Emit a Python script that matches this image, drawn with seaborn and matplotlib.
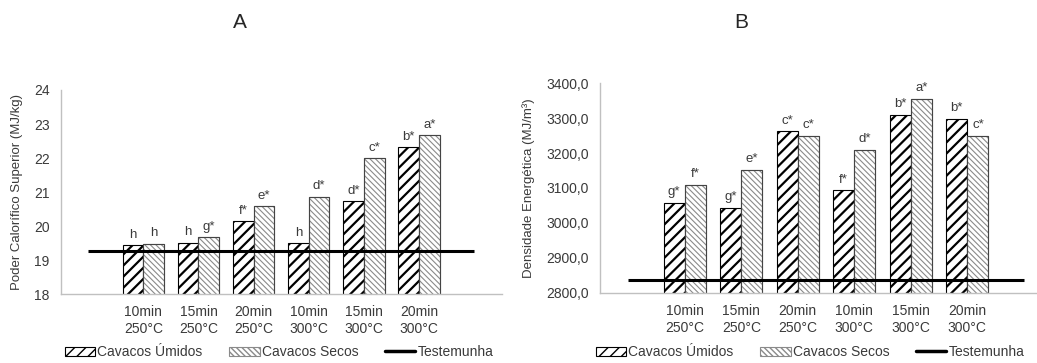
import matplotlib
matplotlib.use("Agg")
import matplotlib.pyplot as plt
from matplotlib.patches import Patch, Rectangle
from matplotlib.lines import Line2D
import seaborn as sns
import pandas as pd

# Treatments (time / temperature)
tratamentos = ["10min\n250°C", "15min\n250°C", "20min\n250°C",
               "10min\n300°C", "15min\n300°C", "20min\n300°C"]

# Panel A: higher heating value (MJ/kg)
pcs_umidos = [19.45, 19.52, 20.16, 19.50, 20.74, 22.33]
pcs_secos = [19.49, 19.67, 20.60, 20.87, 21.99, 22.68]
pcs_testemunha = 19.27
pcs_letras_umidos = ["h", "h", "f*", "h", "d*", "b*"]
pcs_letras_secos = ["h", "g*", "e*", "d*", "c*", "a*"]

# Panel B: energy density (MJ/m³)
de_umidos = [3056, 3042, 3262, 3093, 3309, 3298]
de_secos = [3109, 3152, 3248, 3209, 3354, 3250]
de_testemunha = 2837
de_letras_umidos = ["g*", "g*", "c*", "f*", "b*", "b*"]
de_letras_secos = ["f*", "e*", "c*", "d*", "a*", "c*"]

grupos = ["Cavacos Úmidos", "Cavacos Secos"]

sns.set_theme(style="white")
plt.rcParams["font.family"] = ["Liberation Sans", "DejaVu Sans"]

TXT = "#3a3a3a"
SPINE = "#c0c0c0"
HATCH_U = "///"
HATCH_S = "\\\\\\\\\\\\"


def hatch_lw(p, lw):
    if hasattr(p, "set_hatch_linewidth"):
        p.set_hatch_linewidth(lw)
    else:
        p._hatch_linewidth = lw


def estilo_umido(p):
    p.set_facecolor("white")
    p.set_edgecolor("black")
    p.set_hatch(HATCH_U)
    p.set_linewidth(0.8)
    hatch_lw(p, 1.6)


def estilo_seco(p):
    p.set_facecolor("white")
    p.set_edgecolor("#8a8a8a")
    p.set_hatch(HATCH_S)
    p.set_linewidth(0.8)
    hatch_lw(p, 0.8)


fig = plt.figure(figsize=(10.37, 3.63), dpi=100)
axA = fig.add_axes([0.0585, 0.1893, 0.4253, 0.5628])
axB = fig.add_axes([0.5786, 0.1937, 0.4359, 0.5769])


def painel(ax, umidos, secos, testemunha, letras_u, letras_s, ylim, yticks,
           fmt, ylabel, offset):
    df = pd.DataFrame({
        "trat": tratamentos * 2,
        "grupo": [grupos[0]] * len(tratamentos) + [grupos[1]] * len(tratamentos),
        "valor": list(umidos) + list(secos),
    })
    sns.barplot(data=df, x="trat", y="valor", hue="grupo", order=tratamentos,
                hue_order=grupos, width=0.75, dodge=True, legend=False,
                errorbar=None, ax=ax, zorder=2)
    bars = list(ax.patches)
    n = len(tratamentos)
    for p in bars[:n]:
        estilo_umido(p)
    for p in bars[n:2 * n]:
        estilo_seco(p)
        # dark outline on top of the gray hatching
        ax.add_patch(Rectangle(p.get_xy(), p.get_width(), p.get_height(),
                               fill=False, edgecolor="#444444", linewidth=0.8,
                               zorder=2.5))
    labels = list(letras_u) + list(letras_s)
    for p, lab in zip(bars[:2 * n], labels):
        ax.text(p.get_x() + p.get_width() / 2, p.get_y() + p.get_height() + offset,
                lab, ha="center", va="bottom", fontsize=9.5, color=TXT)
    ax.hlines(testemunha, -1.0, 6.0, color="black", linewidth=2.2, zorder=3)
    ax.set_xlim(-1.5, 6.5)
    ax.set_ylim(*ylim)
    ax.set_yticks(yticks)
    ax.set_yticklabels([fmt(v) for v in yticks], fontsize=10, color=TXT)
    ax.set_xticks(range(n))
    ax.set_xticklabels(tratamentos, fontsize=10, color=TXT, linespacing=1.25)
    ax.tick_params(axis="both", length=0, pad=8)
    ax.set_xlabel("")
    ax.set_ylabel(ylabel, fontsize=9.5, color=TXT, labelpad=8)
    for s in ["top", "right"]:
        ax.spines[s].set_visible(False)
    for s in ["left", "bottom"]:
        ax.spines[s].set_color(SPINE)
        ax.spines[s].set_linewidth(1.0)
    pu = Patch(label=grupos[0])
    estilo_umido(pu)
    ps = Patch(label=grupos[1])
    estilo_seco(ps)
    return [pu, ps, Line2D([0], [0], color="black", linewidth=2.5, label="Testemunha")]


hA = painel(axA, pcs_umidos, pcs_secos, pcs_testemunha, pcs_letras_umidos,
            pcs_letras_secos, (18, 24), list(range(18, 25)), lambda v: f"{v:d}",
            "Poder Calorífico Superior (MJ/kg)", 0.12)
hB = painel(axB, de_umidos, de_secos, de_testemunha, de_letras_umidos,
            de_letras_secos, (2800, 3400), list(range(2800, 3401, 100)),
            lambda v: f"{v:.1f}".replace(".", ","),
            "Densidade Energética (MJ/m³)", 14)

fig.text(240 / 1037, 1 - 23 / 363, "A", ha="center", va="center", fontsize=15)
fig.text(741 / 1037, 1 - 23 / 363, "B", ha="center", va="center", fontsize=15)

for handles, cx in [(hA, 279 / 1037), (hB, 810 / 1037)]:
    fig.legend(handles=handles, loc="center", bbox_to_anchor=(cx, 1 - 352 / 363),
               ncol=3, frameon=False, fontsize=10, handlelength=2.2,
               handleheight=0.6, handletextpad=0.15, columnspacing=1.9,
               labelcolor=TXT)

fig.savefig("out.png", dpi=100)
